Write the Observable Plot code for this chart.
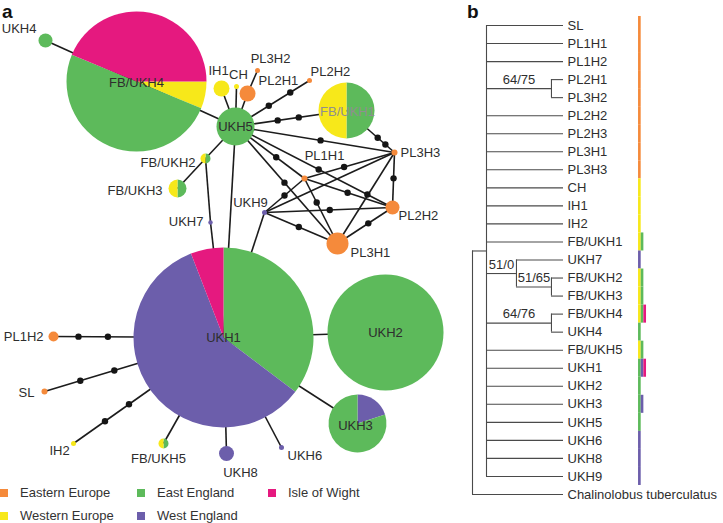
<!DOCTYPE html>
<html><head><meta charset="utf-8">
<script src="https://cdn.jsdelivr.net/npm/d3@7"></script>
<script src="https://cdn.jsdelivr.net/npm/@observablehq/plot@0.6"></script>
<style>
body{margin:0;background:#fff;}
#fig{position:relative;width:723px;height:523px;font-family:"Liberation Sans",Arial,sans-serif;overflow:hidden;background:#fff}
#a,#b{position:absolute;top:0}
#a{left:0} #b{left:460px}
.panel{position:absolute;font-weight:bold;font-size:19px;color:#111;line-height:1}
#legend{position:absolute;left:0;top:481px;display:grid;grid-template-columns:137px 131px auto;grid-auto-rows:23px;font-size:13px;color:#333}
.item{display:flex;align-items:center;white-space:nowrap}
.sw{width:8px;height:8px;margin-right:12px;flex:none}
</style></head><body>
<div id="fig">
  <div id="a"></div><div id="b"></div>
  <div class="panel" style="left:2px;top:2px">a</div>
  <div class="panel" style="left:467px;top:2px">b</div>
  <div id="legend"></div>
</div>
<script>
// ---------- DATA ----------
const regions = ["Eastern Europe","Western Europe","East England","West England","Isle of Wight"];
const regionColors = ["#f58a3b","#f7e81a","#5dba5b","#6c5eab","#e5197f"];
const legendOrder = ["Eastern Europe","East England","Isle of Wight","Western Europe","West England"];

// haplotypes of the network, their labels and regional make-up (counts, clockwise)
const haplotypes = ["UKH1","UKH2","UKH3","UKH4","FB/UKH4","UKH5","FB/UKH1","FB/UKH2","FB/UKH3","FB/UKH5","UKH6","UKH7","UKH8","UKH9","IH1","IH2","CH","SL","PL1H1","PL1H2","PL2H1","PL2H2a","PL2H2","PL3H1","PL3H2","PL3H3"];
const hapLabels  = ["UKH1","UKH2","UKH3","UKH4","FB/UKH4","UKH5","FB/UKH1","FB/UKH2","FB/UKH3","FB/UKH5","UKH6","UKH7","UKH8","UKH9","IH1","IH2","CH","SL","PL1H1","PL1H2","PL2H1","PL2H2","PL2H2","PL3H1","PL3H2","PL3H3"];
const hapComposition = [
  [["East England",12],["West England",20],["Isle of Wight",2]],
  [["East England",1]],
  [["West England",1],["East England",4]],
  [["East England",1]],
  [["Western Europe",1],["East England",8],["Isle of Wight",7]],
  [["East England",1]],
  [["East England",1],["Western Europe",1]],
  [["East England",1],["Western Europe",1]],
  [["East England",1],["Western Europe",1]],
  [["East England",1],["Western Europe",1]],
  [["West England",1]],
  [["West England",1]],
  [["West England",1]],
  [["West England",1]],
  [["Western Europe",1]],
  [["Western Europe",1]],
  [["Western Europe",1]],
  [["Eastern Europe",1]],
  [["Eastern Europe",1]],
  [["Eastern Europe",1]],
  [["Eastern Europe",1]],
  [["Eastern Europe",1]],
  [["Eastern Europe",1]],
  [["Eastern Europe",1]],
  [["Eastern Europe",1]],
  [["Eastern Europe",1]]
];
// network links: [from, to, positions of intermediate (missing) haplotypes along the link]
const links = [
  ["UKH4","FB/UKH4",[]],["FB/UKH4","UKH5",[]],
  ["UKH5","IH1",[]],["UKH5","CH",[]],["UKH5","PL2H1",[]],["PL2H1","PL3H2",[]],
  ["UKH5","PL2H2a",[0.45,0.74]],["UKH5","FB/UKH1",[0.38,0.57]],["FB/UKH1","PL3H3",[0.65,0.81]],
  ["UKH5","PL3H3",[0.535]],["UKH5","PL1H1",[0.59]],["UKH5","PL3H1",[0.48]],["UKH5","PL2H2",[0.53,0.84]],
  ["PL1H1","PL3H3",[0.44]],["PL1H1","PL2H2",[0.49]],["PL1H1","PL3H1",[0.37]],
  ["UKH9","PL1H1",[0.5]],["UKH9","PL2H2",[0.51]],["UKH9","PL3H1",[0.47]],["UKH9","PL3H3",[]],
  ["PL3H1","PL2H2",[0.56]],["PL3H3","PL2H2",[0.47]],["PL3H3","PL3H1",[]],
  ["UKH9","UKH1",[]],["UKH5","UKH1",[]],["UKH5","FB/UKH2",[]],["FB/UKH2","FB/UKH3",[]],
  ["FB/UKH2","UKH7",[]],["UKH7","UKH1",[]],
  ["UKH1","PL1H2",[0.68,0.853]],["UKH1","SL",[0.61,0.80]],["UKH1","IH2",[0.63,0.79]],
  ["UKH1","FB/UKH5",[]],["UKH1","UKH8",[]],["UKH1","UKH6",[]],["UKH1","UKH2",[]],["UKH1","UKH3",[]]
];

// phylogeny (panel b)
const tipDepth = 6.5;
const tree = {depth:0, children:[
  {depth:1, children:[
    "SL","PL1H1","PL1H2",
    {depth:5.64, support:"64/75", children:["PL2H1","PL3H2"]},
    "PL2H2","PL2H3","PL3H1","PL3H3","CH","IH1","IH2","FB/UKH1",
    {depth:3.14, support:"51/0", children:["UKH7",{depth:5.64, support:"51/65", children:["FB/UKH2","FB/UKH3"]}]},
    {depth:5.64, support:"64/76", children:["FB/UKH4","UKH4"]},
    "FB/UKH5","UKH1","UKH2","UKH3","UKH5","UKH6","UKH8","UKH9"]},
  "Chalinolobus tuberculatus"]};
const tipRegions = {
  "SL":["Eastern Europe"],"PL1H1":["Eastern Europe"],"PL1H2":["Eastern Europe"],"PL2H1":["Eastern Europe"],
  "PL3H2":["Eastern Europe"],"PL2H2":["Eastern Europe"],"PL2H3":["Eastern Europe"],"PL3H1":["Eastern Europe"],
  "PL3H3":["Eastern Europe"],"CH":["Western Europe"],"IH1":["Western Europe"],"IH2":["Western Europe"],
  "FB/UKH1":["Western Europe","East England"],"UKH7":["West England"],
  "FB/UKH2":["Western Europe","East England"],"FB/UKH3":["Western Europe","East England"],
  "FB/UKH4":["Western Europe","East England","Isle of Wight"],"UKH4":["East England"],
  "FB/UKH5":["Western Europe","East England"],"UKH1":["East England","West England","Isle of Wight"],
  "UKH2":["East England"],"UKH3":["East England","West England"],"UKH5":["East England"],
  "UKH6":["West England"],"UKH8":["West England"],"UKH9":["West England"]
};

// ---------- LAYOUT of the network (node placement, pie start angle, label offset) ----------
const nodeLayout = [
 {x:223,y:337,r:90,start:0,dx:0,dy:0,anchor:"middle"},
 {x:385,y:332,r:58,start:0,dx:0,dy:0,anchor:"middle"},
 {x:357,y:423,r:29,start:0,dx:-2,dy:2,anchor:"middle"},
 {x:45,y:40,r:7,start:0,dx:-9,dy:-12,anchor:"end"},
 {x:136,y:81,r:70,start:90,dx:0,dy:1,anchor:"middle"},
 {x:235,y:126,r:19,start:0,dx:0,dy:0,anchor:"middle"},
 {x:346,y:110,r:28,start:0,dx:1,dy:1,anchor:"middle",ghost:true},
 {x:205,y:158,r:5,start:0,dx:-10,dy:4,anchor:"end"},
 {x:177,y:188,r:9,start:0,dx:-15,dy:2,anchor:"end"},
 {x:163,y:443,r:5,start:0,dx:-5,dy:15,anchor:"middle"},
 {x:281,y:447,r:2.5,start:0,dx:6,dy:8,anchor:"start"},
 {x:210,y:222,r:2.2,start:0,dx:-7,dy:-1,anchor:"end"},
 {x:226,y:453,r:7.5,start:0,dx:14,dy:19,anchor:"middle"},
 {x:264,y:212,r:2.5,start:0,dx:-14,dy:-10,anchor:"middle"},
 {x:221,y:88,r:8,start:0,dx:-3,dy:-18,anchor:"middle"},
 {x:73,y:443,r:2.5,start:0,dx:-14,dy:7,anchor:"middle"},
 {x:236,y:86,r:2.5,start:0,dx:2,dy:-12,anchor:"middle"},
 {x:44,y:391,r:3,start:0,dx:-10,dy:1,anchor:"end"},
 {x:304,y:178,r:3,start:0,dx:20,dy:-23,anchor:"middle"},
 {x:53,y:336,r:5,start:0,dx:-10,dy:0,anchor:"end"},
 {x:247,y:93,r:8,start:0,dx:11,dy:-13,anchor:"start"},
 {x:309,y:80,r:2.5,start:0,dx:1,dy:-9,anchor:"start"},
 {x:392,y:207,r:7,start:0,dx:6,dy:8,anchor:"start"},
 {x:337,y:243,r:11,start:0,dx:13,dy:9,anchor:"start"},
 {x:257,y:70,r:2.5,start:0,dx:13,dy:-12,anchor:"middle"},
 {x:394,y:152,r:3,start:0,dx:6,dy:0,anchor:"start"}
];

// ---------- BUILD ----------
const color = r => regionColors[regions.indexOf(r)];
const nodes = haplotypes.map((id,i) => ({id, label: hapLabels[i], comp: hapComposition[i], ...nodeLayout[i]}));
const byId = new Map(nodes.map(n => [n.id, n]));
const font = '"Liberation Sans", Arial, sans-serif';

function wedge(a0, a1) {
  return {draw(ctx, size) {
    const r = Math.sqrt(size / Math.PI);
    ctx.moveTo(0, 0);
    ctx.arc(0, 0, r, a0 - Math.PI / 2, a1 - Math.PI / 2);
    ctx.closePath();
  }};
}

const pieMarks = [];
const solidNodes = [];
for (const n of nodes) {
  if (n.comp.length === 1) { solidNodes.push({...n, region: n.comp[0][0]}); continue; }
  const total = d3.sum(n.comp, c => c[1]);
  let a = n.start * Math.PI / 180;
  for (const [reg, cnt] of n.comp) {
    const a1 = a + cnt / total * 2 * Math.PI;
    pieMarks.push(Plot.dot([n], {x: "x", y: "y", r: n.r, symbol: wedge(a, a1), fill: color(reg), stroke: "none"}));
    a = a1;
  }
}
const edgeData = links.map(([f, t, steps]) => ({a: byId.get(f), b: byId.get(t), steps}));
const stepDots = edgeData.flatMap(e => e.steps.map(t => ({e, t})));

const labelMarks = ["start","middle","end"].map(anchor =>
  Plot.text(nodes.filter(n => n.anchor === anchor), {
    x: d => d.x + d.dx, y: d => d.y + d.dy, text: "label", textAnchor: anchor,
    fill: d => d.ghost ? "#8f8f8f" : "#2e2e2e", fontSize: 13
  }));

const plotA = Plot.plot({
  width: 460, height: 523, margin: 0,
  x: {domain: [0, 460], range: [0, 460], axis: null},
  y: {domain: [0, 523], range: [0, 523], axis: null},
  r: {type: "identity"},
  style: {fontFamily: font, background: "transparent"},
  marks: [
    Plot.link(edgeData, {x1: d => d.a.x, y1: d => d.a.y, x2: d => d.b.x, y2: d => d.b.y, stroke: "#1c1c1c", strokeWidth: 1.6}),
    Plot.dot(stepDots, {x: d => d.e.a.x + d.t * (d.e.b.x - d.e.a.x), y: d => d.e.a.y + d.t * (d.e.b.y - d.e.a.y), r: 3.2, fill: "#151515"}),
    Plot.dot(solidNodes, {x: "x", y: "y", r: "r", fill: d => color(d.region), stroke: "none"}),
    ...pieMarks,
    ...labelMarks
  ]
});
document.getElementById("a").appendChild(plotA);

// ---------- tree ----------
const hSeg = [], vSeg = [], supports = [], tips = [];
let tipIndex = 0;
function layout(node, parentDepth) {
  if (typeof node === "string") {
    const y = tipIndex++;
    hSeg.push({x1: parentDepth, x2: tipDepth, y});
    tips.push({name: node, y});
    return y;
  }
  const ys = node.children.map(c => layout(c, node.depth));
  const y = (ys[0] + ys[ys.length - 1]) / 2;
  vSeg.push({x: node.depth, y1: ys[0], y2: ys[ys.length - 1]});
  if (parentDepth != null) hSeg.push({x1: parentDepth, x2: node.depth, y});
  if (node.support) supports.push({x: (parentDepth + node.depth) / 2, y, text: node.support});
  return y;
}
layout(tree, null);

const barX0 = 11.86, barW = 0.19;
const bars = tips.flatMap(t => (tipRegions[t.name] || []).map((reg, k) => ({y: t.y, k, reg})));

const plotB = Plot.plot({
  width: 263, height: 523, margin: 0,
  x: {domain: [0, tipDepth], range: [12, 103], axis: null},
  y: {domain: [0, tips.length - 1], range: [25, 494], axis: null},
  style: {fontFamily: font, background: "transparent"},
  marks: [
    Plot.ruleY(hSeg, {y: "y", x1: "x1", x2: "x2", stroke: "#4a4a4a", strokeWidth: 1.1}),
    Plot.ruleX(vSeg, {x: "x", y1: "y1", y2: "y2", stroke: "#4a4a4a", strokeWidth: 1.1}),
    Plot.text(tips, {x: tipDepth, y: "y", text: "name", dx: 4, textAnchor: "start", fill: "#2e2e2e", fontSize: 13}),
    Plot.text(supports, {x: "x", y: "y", text: "text", dy: -9, fill: "#2e2e2e", fontSize: 13}),
    Plot.rect(bars, {x1: d => barX0 + d.k * barW, x2: d => barX0 + (d.k + 1) * barW,
      y1: d => d.y - 0.5, y2: d => d.y + 0.5, fill: d => color(d.reg)})
  ]
});
document.getElementById("b").appendChild(plotB);

// ---------- legend ----------
const legend = document.getElementById("legend");
for (const reg of legendOrder) {
  const item = document.createElement("div");
  item.className = "item";
  const sw = document.createElement("span");
  sw.className = "sw"; sw.style.background = color(reg);
  item.appendChild(sw);
  item.appendChild(document.createTextNode(reg));
  legend.appendChild(item);
}
</script>
</body></html>
